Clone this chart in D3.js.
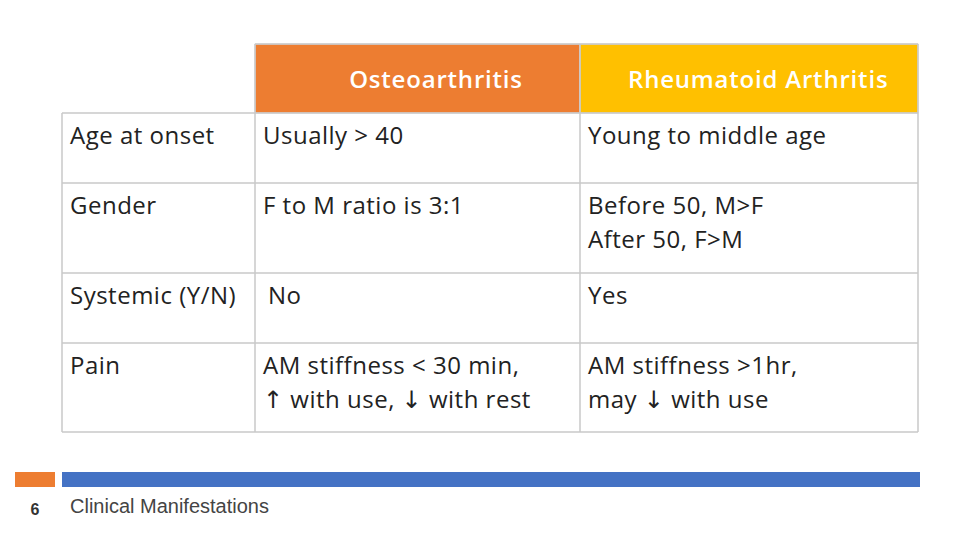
<!DOCTYPE html>
<html><head><meta charset="utf-8">
<script src="https://cdn.jsdelivr.net/npm/d3@7"></script>
<style>body{margin:0;background:#fff}</style>
</head><body>
<svg id="slide" width="960" height="540"></svg>
<script>
var headers = ['Osteoarthritis', 'Rheumatoid Arthritis']
var features = ['Age at onset', 'Gender', 'Systemic (Y/N)', 'Pain']
var oa = [['Usually > 40'], ['F to M ratio is 3:1'], ['No'], ['AM stiffness < 30 min,', '\u2191 with use, \u2193 with rest']]
var ra = [['Young to middle age'], ['Before 50, M>F', 'After 50, F>M'], ['Yes'], ['AM stiffness >1hr,', 'may \u2193 with use']]
var pageNum = '6'
var footer = 'Clinical Manifestations'

var svg = d3.select('#slide')
var font = "'Open Sans', 'Noto Sans', sans-serif"
var colX = [62, 255, 580, 918]
var headTop = 44, headBottom = 113

// row heights follow the number of text lines
var rowH = features.map(function(d, i) {
    return Math.max(oa[i].length, ra[i].length) > 1 ? 90 : 70
})
var rowY = [headBottom]
rowH.forEach(function(h) { rowY.push(rowY[rowY.length - 1] + h) })
rowY[4] = 432

svg.append('clipPath').attr('id', 'tabclip').append('rect')
    .attr('x', 0).attr('y', 0).attr('width', 918).attr('height', 540)

// header cells
var hcol = ['#ED7D31', '#FFC000']
headers.forEach(function(h, i) {
    svg.append('rect').attr('x', colX[i + 1]).attr('y', headTop)
        .attr('width', colX[i + 2] - colX[i + 1]).attr('height', headBottom - headTop)
        .style('fill', hcol[i]).style('stroke', '#ddd').style('stroke-width', 1)
    svg.append('text').attr('x', i == 0 ? 436 : 628).attr('y', 88)
        .attr('clip-path', 'url(#tabclip)')
        .attr('text-anchor', i == 0 ? 'middle' : 'start')
        .style('font-family', font).style('font-weight', 600).style('font-size', '24px')
        .style('letter-spacing', '0.8px')
        .style('fill', '#fff').text(h)
})

// body grid
var grid = svg.append('g').style('stroke', '#c8c8c8').style('stroke-width', 1.5)
rowY.forEach(function(y) {
    grid.append('line').attr('x1', 62).attr('x2', 918).attr('y1', y).attr('y2', y)
})
colX.forEach(function(x) {
    grid.append('line').attr('x1', x).attr('x2', x).attr('y1', x == 62 ? headBottom : headTop).attr('y2', 432)
})
grid.append('line').attr('x1', 255).attr('x2', 918).attr('y1', headTop).attr('y2', headTop)

function cellText(x, y, lines) {
    var t = svg.append('text').attr('x', x).attr('y', y)
        .style('font-family', font).style('font-size', '24px').style('fill', '#222')
        .style('letter-spacing', '0.5px')
    lines.forEach(function(l, k) {
        var line = t.append('tspan').attr('x', x).attr('dy', k == 0 ? 0 : 34)
        // arrows drawn in DejaVu so they stay plain dark glyphs
        l.split(/([\u2191\u2193])/).forEach(function(part) {
            if (!part) return
            var s = line.append('tspan').text(part)
            if (/[\u2191\u2193]/.test(part)) s.style('font-family', 'DejaVu Sans').style('fill', '#222')
        })
    })
}

features.forEach(function(f, i) {
    var y = rowY[i] + 31
    cellText(70, y, [f])
    cellText(i == 2 ? 268 : 263, y, oa[i])
    cellText(588, y, ra[i])
})

// footer bar
svg.append('rect').attr('x', 15).attr('y', 472).attr('width', 40).attr('height', 15).style('fill', '#ED7D31')
svg.append('rect').attr('x', 62).attr('y', 472).attr('width', 858).attr('height', 15).style('fill', '#4472C4')
svg.append('text').attr('x', 35).attr('y', 515).attr('text-anchor', 'middle')
    .style('font-family', 'Liberation Sans, Arial').style('font-weight', 'bold').style('font-size', '16px')
    .style('fill', '#333').text(pageNum)
svg.append('text').attr('x', 70).attr('y', 513)
    .style('font-family', 'Liberation Sans, Arial').style('font-size', '20px')
    .style('fill', '#444').text(footer)
</script>
</body></html>
